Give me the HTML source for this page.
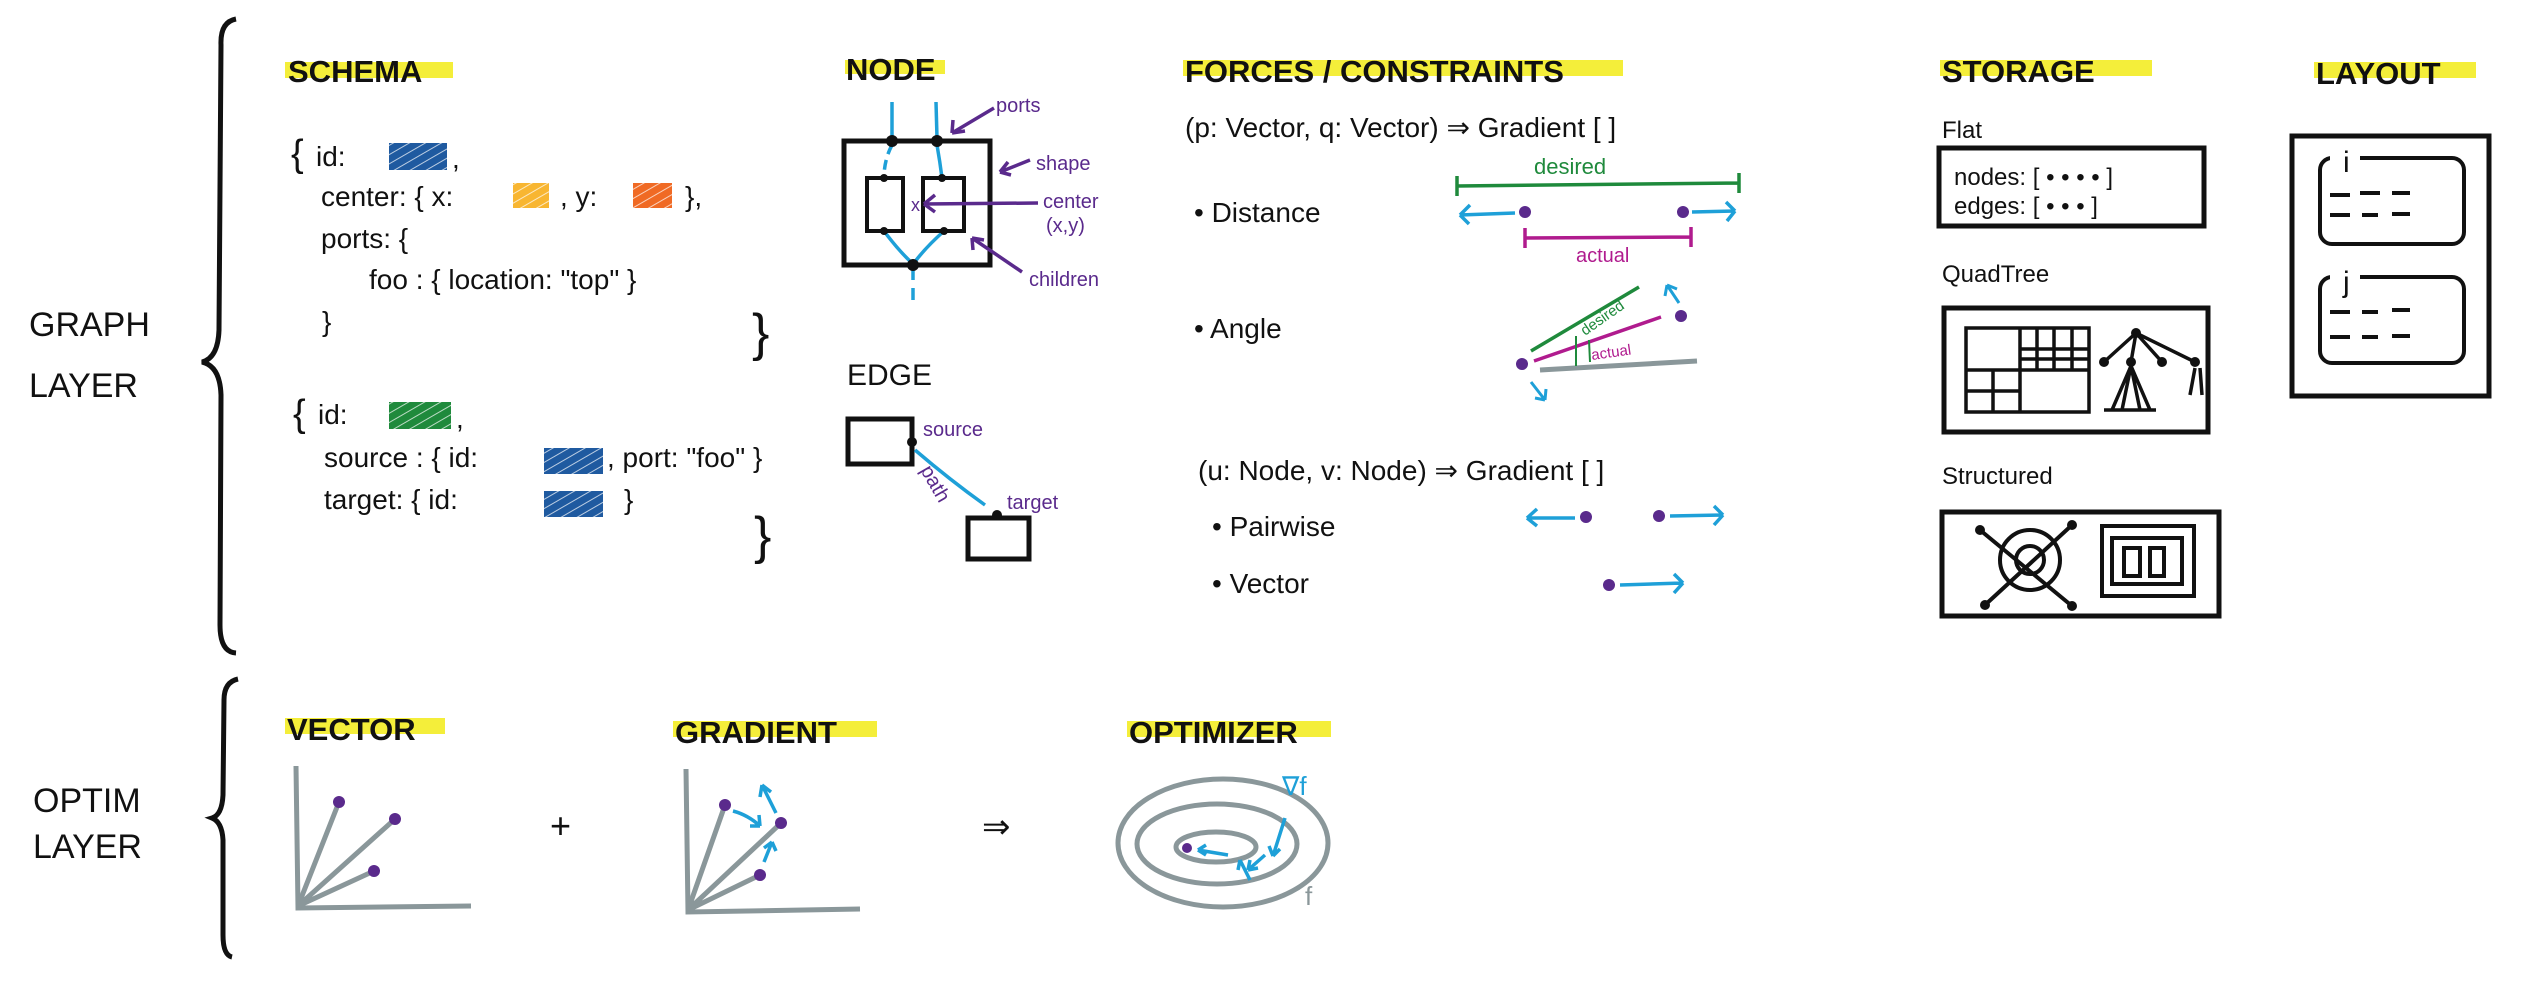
<!DOCTYPE html>
<html><head><meta charset="utf-8"><style>
html,body{margin:0;padding:0;background:#fff;}
svg{display:block;}
text{font-family:"Liberation Sans",sans-serif;}
.h{font-size:31px;font-weight:bold;fill:#111;}
.t{font-size:28px;fill:#111;}
.p{fill:#5a2a8c;font-size:20px;}
</style></head><body>
<svg width="2526" height="996" viewBox="0 0 2526 996" xmlns="http://www.w3.org/2000/svg">
<defs>
<pattern id="hatch" width="8" height="8" patternUnits="userSpaceOnUse" patternTransform="rotate(60)">
<rect width="8" height="8" fill="none"/><line x1="0" y1="0" x2="0" y2="8" stroke="#fff" stroke-width="2" opacity="0.7"/></pattern>
</defs>
<!-- left labels -->
<text x="29" y="336" class="t" style="font-size:34px">GRAPH</text>
<text x="29" y="397" class="t" style="font-size:34px">LAYER</text>
<text x="33" y="812" class="t" style="font-size:34px">OPTIM</text>
<text x="33" y="858" class="t" style="font-size:34px">LAYER</text>
<!-- big braces -->
<path d="M236,19 Q220,22 221,45 L219,330 Q218,358 202,362 Q220,366 221,395 L220,625 Q220,652 236,653" fill="none" stroke="#111" stroke-width="5"/>
<path d="M238,679 Q224,682 224,700 L223,795 Q222,815 212,818 Q222,822 223,840 L223,935 Q223,955 232,957" fill="none" stroke="#111" stroke-width="5"/>

<!-- SCHEMA -->
<rect x="285" y="62" width="168" height="16" fill="#f4ee3a"/>
<text x="288" y="82" class="h">SCHEMA</text>
<g class="t">
<text x="291" y="166" style="font-size:38px">{</text>
<text x="316" y="166" class="t">id:</text>
<rect x="389" y="143" width="58" height="27" fill="#1f5aa0"/><rect x="389" y="143" width="58" height="27" fill="url(#hatch)"/>
<text x="452" y="168" class="t">,</text>
<text x="321" y="206" class="t">center: { x:</text>
<rect x="513" y="183" width="36" height="25" fill="#f8b631"/><rect x="513" y="183" width="36" height="25" fill="url(#hatch)"/>
<text x="560" y="206" class="t">, y:</text>
<rect x="633" y="183" width="39" height="25" fill="#f06a24"/><rect x="633" y="183" width="39" height="25" fill="url(#hatch)"/>
<text x="685" y="206" class="t">},</text>
<text x="321" y="248" class="t">ports: {</text>
<text x="369" y="289" class="t">foo : { location: "top" }</text>
<text x="322" y="331" class="t">}</text>
<text x="752" y="350" style="font-size:52px" class="t">}</text>
<text x="293" y="426" style="font-size:38px">{</text>
<text x="318" y="424" class="t">id:</text>
<rect x="389" y="402" width="62" height="27" fill="#1f8a3c"/><rect x="389" y="402" width="62" height="27" fill="url(#hatch)"/>
<text x="456" y="428" class="t">,</text>
<text x="324" y="467" class="t">source : { id:</text>
<rect x="544" y="448" width="59" height="26" fill="#1f5aa0"/><rect x="544" y="448" width="59" height="26" fill="url(#hatch)"/>
<text x="607" y="467" class="t">, port: "foo" }</text>
<text x="324" y="509" class="t">target: { id:</text>
<rect x="544" y="491" width="59" height="26" fill="#1f5aa0"/><rect x="544" y="491" width="59" height="26" fill="url(#hatch)"/>
<text x="624" y="509" class="t">}</text>
<text x="754" y="553" style="font-size:52px" class="t">}</text>
</g>

<!-- NODE -->
<rect x="845" y="60" width="100" height="14" fill="#f4ee3a"/>
<text x="846" y="80" class="h">NODE</text>
<g fill="none" stroke="#1ea0d8" stroke-width="3.5">
<path d="M892,102 L892,138"/><path d="M936,102 L937,138"/>
<path d="M892,145 Q884,160 884,178" stroke-dasharray="10 6"/>
<path d="M937,145 Q940,162 942,178"/>
<path d="M884,231 Q898,250 912,263"/><path d="M944,231 Q925,248 914,263"/>
<path d="M913,268 L913,305" stroke-dasharray="12 8"/>
</g>
<rect x="844" y="141" width="146" height="124" fill="none" stroke="#111" stroke-width="5"/>
<rect x="867" y="178" width="36" height="53" fill="none" stroke="#111" stroke-width="4"/>
<rect x="923" y="178" width="41" height="53" fill="none" stroke="#111" stroke-width="4"/>
<g fill="#111"><circle cx="892" cy="141" r="6"/><circle cx="937" cy="141" r="6"/><circle cx="913" cy="265" r="6"/>
<circle cx="884" cy="178" r="4"/><circle cx="942" cy="178" r="4"/><circle cx="884" cy="231" r="4"/><circle cx="944" cy="231" r="4"/></g>
<text x="911" y="211" fill="#5a2a8c" font-size="18">x</text>
<g fill="none" stroke="#5a2a8c" stroke-width="3.5">
<path d="M994,108 L952,133 M952,133 L953,120 M952,133 L965,131"/>
<path d="M1030,160 L1000,172 M1000,172 L1008,162 M1000,172 L1011,175"/>
<path d="M1038,203 L924,204 M924,204 L935,195 M924,204 L935,212"/>
<path d="M1022,272 L972,238 M972,238 L973,250 M972,238 L984,240"/>
</g>
<text x="996" y="112" class="p">ports</text>
<text x="1036" y="170" class="p">shape</text>
<text x="1043" y="208" class="p">center</text>
<text x="1046" y="232" class="p">(x,y)</text>
<text x="1029" y="286" class="p">children</text>

<!-- EDGE -->
<text x="847" y="385" class="t" style="font-size:30px">EDGE</text>
<rect x="848" y="419" width="64" height="45" fill="none" stroke="#111" stroke-width="5"/>
<rect x="968" y="518" width="61" height="41" fill="none" stroke="#111" stroke-width="5"/>
<path d="M915,450 Q950,480 985,505" fill="none" stroke="#1ea0d8" stroke-width="3.5"/>
<circle cx="912" cy="442" r="5" fill="#111"/><circle cx="997" cy="515" r="5" fill="#111"/>
<text x="923" y="436" class="p" font-size="18">source</text>
<text x="1007" y="509" class="p" font-size="18">target</text>
<text x="920" y="470" class="p" font-size="18" transform="rotate(60 920 470)">path</text>

<!-- FORCES -->
<rect x="1183" y="60" width="440" height="16" fill="#f4ee3a"/>
<text x="1185" y="82" class="h">FORCES / CONSTRAINTS</text>
<text x="1185" y="137" class="t">(p: Vector, q: Vector) ⇒ Gradient [ ]</text>
<text x="1534" y="174" fill="#1f8a3c" font-size="22">desired</text>
<path d="M1457,186 L1739,183 M1457,176 L1457,196 M1739,173 L1739,193" stroke="#1f8a3c" stroke-width="3.5" fill="none"/>
<text x="1194" y="222" class="t">• Distance</text>
<g fill="#5a2a8c"><circle cx="1525" cy="212" r="6"/><circle cx="1683" cy="212" r="6"/></g>
<g fill="none" stroke="#1ea0d8" stroke-width="3.5">
<path d="M1515,213 L1460,215 M1460,215 L1470,205 M1460,215 L1469,224"/>
<path d="M1692,212 L1735,211 M1735,211 L1726,202 M1735,211 L1727,221"/>
</g>
<path d="M1525,238 L1691,237 M1525,228 L1525,248 M1691,227 L1691,247" stroke="#b01b8e" stroke-width="3.5" fill="none"/>
<text x="1576" y="262" fill="#b01b8e" font-size="20">actual</text>
<text x="1194" y="338" class="t">• Angle</text>
<path d="M1540,370 L1697,361" stroke="#8a979a" stroke-width="5" fill="none"/>
<path d="M1534,361 L1661,317" stroke="#b01b8e" stroke-width="3.5" fill="none"/>
<path d="M1531,351 L1639,287" stroke="#1f8a3c" stroke-width="3.5" fill="none"/>
<text x="1585" y="336" fill="#1f8a3c" font-size="15" transform="rotate(-35 1585 336)">desired</text>
<text x="1592" y="360" fill="#b01b8e" font-size="15" transform="rotate(-8 1592 360)">actual</text>
<path d="M1576,366 L1576,336 M1590,362 L1589,340" stroke="#1f8a3c" stroke-width="2" fill="none"/>
<g fill="#5a2a8c"><circle cx="1522" cy="364" r="6"/><circle cx="1681" cy="316" r="6"/></g>
<g fill="none" stroke="#1ea0d8" stroke-width="3">
<path d="M1679,303 L1667,285 M1667,285 L1665,296 M1667,285 L1677,289"/>
<path d="M1531,382 L1545,400 M1545,400 L1535,398 M1545,400 L1546,389"/>
</g>
<text x="1198" y="480" class="t">(u: Node, v: Node) ⇒ Gradient [ ]</text>
<text x="1212" y="536" class="t">• Pairwise</text>
<text x="1212" y="593" class="t">• Vector</text>
<g fill="#5a2a8c"><circle cx="1586" cy="517" r="6"/><circle cx="1659" cy="516" r="6"/><circle cx="1609" cy="585" r="6"/></g>
<g fill="none" stroke="#1ea0d8" stroke-width="3.5">
<path d="M1575,518 L1527,518 M1527,518 L1537,509 M1527,518 L1537,526"/>
<path d="M1670,516 L1723,515 M1723,515 L1714,506 M1723,515 L1714,525"/>
<path d="M1620,585 L1683,583 M1683,583 L1674,574 M1683,583 L1674,593"/>
</g>

<!-- STORAGE -->
<rect x="1940" y="60" width="212" height="16" fill="#f4ee3a"/>
<text x="1942" y="82" class="h">STORAGE</text>
<text x="1942" y="138" class="t" style="font-size:24px">Flat</text>
<rect x="1939" y="148" width="265" height="78" fill="none" stroke="#111" stroke-width="5"/>
<text x="1954" y="185" class="t" style="font-size:24px">nodes: [ • • • • ]</text>
<text x="1954" y="214" class="t" style="font-size:24px">edges: [ • • • ]</text>
<text x="1942" y="282" class="t" style="font-size:24px">QuadTree</text>
<rect x="1944" y="308" width="264" height="124" fill="none" stroke="#111" stroke-width="5"/>
<g fill="none" stroke="#111" stroke-width="3.5">
<rect x="1966" y="328" width="123" height="84"/>
<path d="M2020,328 L2020,412 M1966,370 L2089,370 M2054,328 L2054,370 M2020,349 L2089,349 M2037,328 L2037,370 M2072,328 L2072,370 M2020,359 L2089,359 M1966,391 L2020,391 M1993,370 L1993,412"/>
<path d="M2136,333 L2104,362 M2136,333 L2131,362 M2136,333 L2162,362 M2136,333 L2195,362"/>
<path d="M2131,366 L2112,410 M2131,366 L2122,410 M2131,366 L2140,410 M2131,366 L2150,410 M2104,410 L2156,410 M2195,368 L2190,395 M2200,368 L2202,395"/>
</g>
<g fill="#111"><circle cx="2136" cy="333" r="5"/><circle cx="2104" cy="362" r="5"/><circle cx="2131" cy="362" r="5"/><circle cx="2162" cy="362" r="5"/><circle cx="2195" cy="362" r="5"/></g>
<text x="1942" y="484" class="t" style="font-size:24px">Structured</text>
<rect x="1942" y="512" width="277" height="104" fill="none" stroke="#111" stroke-width="5"/>
<g fill="none" stroke="#111" stroke-width="4">
<circle cx="2030" cy="560" r="30"/><circle cx="2030" cy="560" r="14"/>
<path d="M1980,530 L2072,606 M2072,525 L1985,605"/>
<rect x="2102" y="526" width="92" height="70"/><rect x="2112" y="538" width="70" height="46"/>
<rect x="2124" y="548" width="16" height="28"/><rect x="2150" y="548" width="14" height="28"/>
</g>
<g fill="#111"><circle cx="1980" cy="530" r="5"/><circle cx="2072" cy="525" r="5"/><circle cx="1985" cy="605" r="5"/><circle cx="2072" cy="606" r="5"/></g>

<!-- LAYOUT -->
<rect x="2314" y="62" width="162" height="16" fill="#f4ee3a"/>
<text x="2316" y="84" class="h">LAYOUT</text>
<rect x="2292" y="136" width="197" height="260" fill="none" stroke="#111" stroke-width="5"/>
<g fill="none" stroke="#111" stroke-width="4">
<rect x="2320" y="158" width="144" height="86" rx="12"/>
<rect x="2320" y="277" width="144" height="86" rx="12"/>
<path d="M2330,195 L2350,195 M2360,193 L2380,193 M2392,193 L2410,193 M2330,215 L2350,215 M2362,215 L2378,215 M2392,214 L2410,214"/>
<path d="M2330,312 L2350,312 M2362,312 L2378,312 M2392,310 L2410,310 M2330,337 L2350,337 M2362,337 L2378,337 M2392,336 L2410,336"/>
</g>
<rect x="2330" y="150" width="30" height="20" fill="#fff"/>
<rect x="2330" y="268" width="30" height="22" fill="#fff"/>
<text x="2343" y="172" class="t" style="font-size:30px">i</text>
<text x="2343" y="292" class="t" style="font-size:30px">j</text>

<!-- OPTIM -->
<rect x="285" y="718" width="160" height="16" fill="#f4ee3a"/>
<text x="287" y="740" class="h">VECTOR</text>
<rect x="673" y="721" width="204" height="16" fill="#f4ee3a"/>
<text x="675" y="743" class="h">GRADIENT</text>
<rect x="1127" y="721" width="204" height="16" fill="#f4ee3a"/>
<text x="1129" y="743" class="h">OPTIMIZER</text>
<g fill="none" stroke="#8a979a" stroke-width="5">
<path d="M296,766 L298,908 L471,906"/>
<path d="M298,906 L339,802 M298,906 L395,819 M298,906 L374,871"/>
<path d="M686,769 L688,912 L860,909"/>
<path d="M688,910 L725,805 M688,910 L781,823 M688,910 L760,875"/>
<ellipse cx="1223" cy="843" rx="105" ry="64"/>
<ellipse cx="1217" cy="844" rx="80" ry="40"/>
<ellipse cx="1216" cy="847" rx="40" ry="15"/>
</g>
<text x="1305" y="905" fill="#8a979a" font-size="26">f</text>
<g fill="#5a2a8c"><circle cx="339" cy="802" r="6"/><circle cx="395" cy="819" r="6"/><circle cx="374" cy="871" r="6"/>
<circle cx="725" cy="805" r="6"/><circle cx="781" cy="823" r="6"/><circle cx="760" cy="875" r="6"/><circle cx="1187" cy="848" r="5"/></g>
<text x="550" y="838" class="t" style="font-size:36px">+</text>
<text x="982" y="838" class="t" style="font-size:34px">⇒</text>
<text x="1282" y="795" fill="#1ea0d8" font-size="26">∇f</text>
<g fill="none" stroke="#1ea0d8" stroke-width="3.5">
<path d="M733,811 Q748,815 760,826 M760,826 L750,826 M760,826 L759,815"/>
<path d="M776,813 L762,785 M762,785 L760,797 M762,785 L771,792"/>
<path d="M764,862 L772,842 M772,842 L764,848 M772,842 L776,851"/>
<path d="M1285,818 L1273,856 M1273,856 L1269,846 M1273,856 L1280,849"/>
<path d="M1265,855 L1248,870 M1248,870 L1250,860 M1248,870 L1258,868"/>
<path d="M1250,880 L1240,860 M1240,860 L1238,870"/>
<path d="M1228,855 L1198,850 M1198,850 L1206,845 M1198,850 L1206,855"/>
</g>
</svg>
</body></html>
